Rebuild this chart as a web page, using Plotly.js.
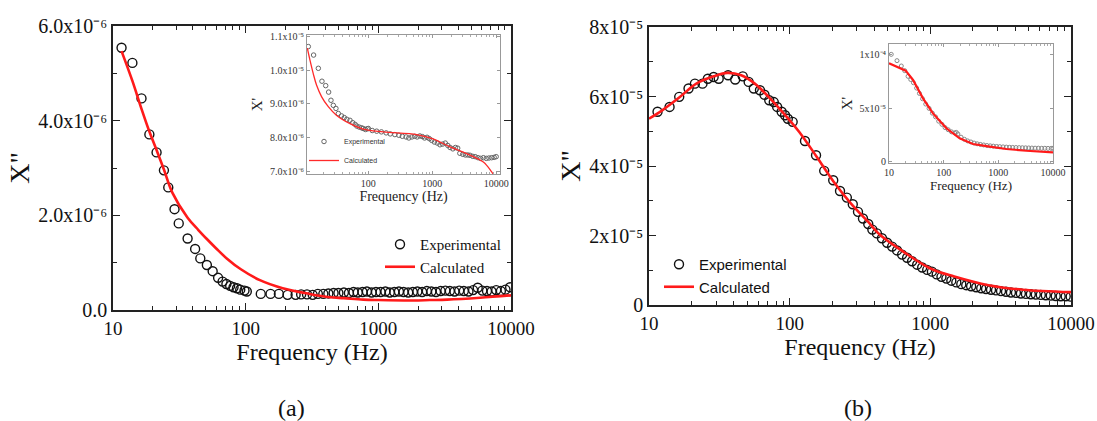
<!DOCTYPE html>
<html>
<head>
<meta charset="utf-8">
<script src="https://cdn.plot.ly/plotly-3.0.1.min.js"></script>
<style>html,body{margin:0;padding:0;background:#fff;}#chart{width:1097px;height:421px;}</style>
</head>
<body>
<div id="chart"></div>
<script>
// ---------- DATA ----------
// Panel (a) main: X'' (units 1e-6) vs frequency (Hz)
const freqA_exp = [11.6,14.0,16.4,18.8,21.3,24.2,26.1,29.1,31.3,36.5,41.6,45.5,51,56.4,62,67,71.6,76.4,81,86,91,98,102,130,154,178,207,238,262,290,320,350,385,420,460,500,550,600,650,700,760,820,890,960,1040,1130,1220,1320,1430,1550,1680,1820,1970,2140,2320,2510,2720,2950,3200,3460,3750,4070,4410,4780,5180,5610,6080,6590,7140,7740,8390,9090,9850];
const chi2A_exp = [5.54,5.22,4.47,3.71,3.33,2.95,2.59,2.13,1.83,1.51,1.29,1.09,0.95,0.82,0.68,0.60,0.55,0.51,0.48,0.46,0.43,0.41,0.39,0.34,0.34,0.34,0.32,0.32,0.33,0.33,0.32,0.34,0.34,0.35,0.36,0.36,0.37,0.36,0.38,0.37,0.38,0.39,0.37,0.38,0.38,0.39,0.37,0.38,0.39,0.38,0.37,0.38,0.39,0.38,0.40,0.39,0.38,0.40,0.41,0.40,0.39,0.41,0.40,0.39,0.42,0.47,0.41,0.40,0.39,0.42,0.40,0.43,0.48];
const freqA_calc = [11.6,14,16.4,18.8,21.3,24.2,28,36.5,44,51,60,72,92,128,190,303,431,550,769,1000,1830,2450,3300,5840,10000];
const chi2A_calc = [5.47,4.84,4.25,3.77,3.38,2.97,2.48,1.95,1.69,1.50,1.30,1.09,0.86,0.63,0.46,0.34,0.27,0.25,0.22,0.21,0.20,0.21,0.22,0.26,0.31];

// Panel (a) inset: X' (units 1e-6) vs frequency (Hz)
const freqAi_exp = [11.5,13.9,16.5,18.8,21.5,23.9,26,28.3,31.1,33.9,38,42,46,51.6,57,62,66,72,78,83,90,96,100,115,135,160,190,220,260,300,340,390,430,480,530,580,640,700,760,830,900,980,1080,1200,1320,1450,1600,1750,1900,2100,2300,2500,2700,3000,3300,3600,3900,4300,4700,5200,5700,6300,7000,7700,8500,9300,10000];
const chi1Ai_exp = [10.69,10.44,10.05,9.67,9.54,9.35,9.11,8.96,8.87,8.72,8.65,8.60,8.55,8.52,8.45,8.40,8.35,8.32,8.30,8.28,8.25,8.27,8.28,8.22,8.20,8.18,8.15,8.12,8.10,8.08,8.05,8.03,8.00,8.03,8.05,8.03,8.06,8.04,8.00,8.02,7.98,7.93,7.88,7.85,7.80,7.82,7.85,7.78,7.72,7.68,7.72,7.70,7.55,7.52,7.50,7.50,7.49,7.46,7.45,7.42,7.40,7.42,7.40,7.41,7.42,7.43,7.45];
const freqAi_calc = [11.1,12.2,13.7,15.5,18.6,23.6,31.6,51.6,83,172,572,1000,1900,3450,6300,8500,10000];
const chi1Ai_calc = [10.64,10.29,9.9,9.55,9.21,8.92,8.67,8.42,8.26,8.18,8.10,7.98,7.74,7.54,7.29,7.0,6.8];

// Panel (b) main: X'' (units 1e-5) vs frequency (Hz)
const freqB_exp = [11.5,14.0,16.4,19.1,21.2,24.0,26.2,28.8,31.3,36.5,41.0,46.4,51.1,55.6,61.5,66.2,71.6,77.1,81.5,87.7,92.7,97,105,128.5,154,176,204,228,255,281,306,332,362,387,417,453,493,535,580,630,684,742,806,875,950,1026,1110,1200,1300,1410,1530,1660,1800,1950,2120,2300,2490,2700,2930,3180,3450,3740,4060,4400,4780,5180,5620,6100,6620,7180,7790,8450,9170,9950];
const chi2B_exp = [5.56,5.70,5.99,6.23,6.37,6.37,6.51,6.56,6.51,6.61,6.49,6.58,6.42,6.23,6.18,6.05,5.89,5.84,5.70,5.56,5.46,5.36,5.27,4.72,4.31,3.86,3.59,3.28,3.09,2.90,2.68,2.49,2.33,2.17,2.06,1.92,1.79,1.68,1.57,1.45,1.36,1.26,1.16,1.08,1.01,0.96,0.88,0.81,0.76,0.70,0.65,0.60,0.57,0.54,0.51,0.48,0.46,0.44,0.42,0.40,0.38,0.36,0.35,0.33,0.32,0.31,0.30,0.29,0.28,0.27,0.26,0.25,0.25,0.24];
const freqB_calc = [10,12.4,16.4,21.7,28.8,36,45.2,56.5,70.8,88.7,117,156,206,273,362,438,635,1000,1480,2594,4550,10000];
const chi2B_calc = [5.36,5.60,5.97,6.37,6.58,6.68,6.61,6.37,5.99,5.56,4.98,4.26,3.54,2.92,2.39,2.02,1.55,1.05,0.82,0.57,0.44,0.37];

// Panel (b) inset: X' (units 1e-4) vs frequency (Hz)
const freqBi_exp = [11,14,16.8,19.4,22.3,25,28,32,36,41,47,54,62,71,81,93,106,121,139,159,170,182,208,240,275,315,360,410,470,540,620,710,810,930,1060,1220,1400,1600,1830,2100,2400,2750,3150,3600,4100,4700,5400,6200,7100,8100,9300,10000];
const chi1Bi_exp = [1.006,0.947,0.897,0.853,0.80,0.77,0.74,0.69,0.64,0.59,0.54,0.50,0.455,0.42,0.38,0.35,0.32,0.30,0.28,0.27,0.275,0.26,0.23,0.21,0.195,0.185,0.175,0.168,0.162,0.157,0.152,0.149,0.146,0.143,0.141,0.139,0.137,0.135,0.134,0.133,0.132,0.131,0.130,0.129,0.128,0.127,0.127,0.126,0.126,0.125,0.125,0.126];
const freqBi_calc = [10,20.2,27.5,41.9,63.8,112,196,344,694,1400,3250,10000];
const chi1Bi_calc = [0.922,0.853,0.766,0.594,0.453,0.313,0.219,0.166,0.141,0.119,0.103,0.0875];

// Tick labels
const freqTicks = [10,100,1000,10000];
const freqTickText = ['10','100','1000','10000'];
const yTicksA = [0,2e-6,4e-6,6e-6];
const yTickTextA = ['0.0','2.0x10⁻⁶','4.0x10⁻⁶','6.0x10⁻⁶'];
const yTicksB = [0,2e-5,4e-5,6e-5,8e-5];
const yTickTextB = ['0','2x10⁻⁵','4x10⁻⁵','6x10⁻⁵','8x10⁻⁵'];
const yTicksAi = [7e-6,8e-6,9e-6,1e-5,1.1e-5];
const yTickTextAi = ['7.0x10⁻⁶','8.0x10⁻⁶','9.0x10⁻⁶','1.0x10⁻⁵','1.1x10⁻⁵'];
const yTicksBi = [0,5e-5,1e-4];
const yTickTextBi = ['0','5x10⁻⁵','1x10⁻⁴'];

// ---------- PLOT ----------
const serif = 'Liberation Serif';
const sans = 'Liberation Sans';
const W = 1097, H = 421;
const px = (a,b) => [a/W, b/W];
const py = (top,bottom) => [1-bottom/H, 1-top/H];
const scale = (arr,k) => arr.map(v => v*k);

const minorLog = [];
[10,100,1000].forEach(d => { for (let k=2;k<=9;k++) minorLog.push(d*k); });

function mainX(domain, anchor) {
  return {domain, anchor, type:'log', range:[1,4], tickmode:'array', tickvals:freqTicks, ticktext:freqTickText,
    ticks:'inside', ticklen:7, tickwidth:1.3, tickcolor:'#222',
    minor:{tickmode:'array', tickvals:minorLog, ticks:'inside', ticklen:4, tickwidth:1, tickcolor:'#222', showgrid:false},
    showline:true, linewidth:1.6, linecolor:'#222', mirror:'ticks', showgrid:false, zeroline:false,
    tickfont:{family:serif, size:19, color:'#111'},
    title:{text:'Frequency (Hz)', font:{family:serif, size:24, color:'#111'}, standoff:6}};
}
function mainY(domain, anchor, range, tv, tt, minorVals) {
  return {domain, anchor, range, tickmode:'array', tickvals:tv, ticktext:tt,
    ticks:'inside', ticklen:7, tickwidth:1.3, tickcolor:'#222',
    minor:{tickmode:'array', tickvals:minorVals, ticks:'inside', ticklen:4, tickwidth:1, tickcolor:'#222', showgrid:false},
    showline:true, linewidth:1.6, linecolor:'#222', mirror:'ticks', showgrid:false, zeroline:false,
    tickfont:{family:serif, size:20, color:'#111'},
    title:{text:'X"', font:{family:serif, size:28, color:'#111'}, standoff:0}};
}
function insetX(domain, anchor, range, fsize, tsize) {
  return {domain, anchor, type:'log', range, tickmode:'array', tickvals:freqTicks, ticktext:freqTickText,
    ticks:'inside', ticklen:3, tickwidth:1, tickcolor:'#999',
    minor:{tickmode:'array', tickvals:minorLog, ticks:'inside', ticklen:2, tickwidth:1, tickcolor:'#aaa', showgrid:false},
    showline:true, linewidth:1, linecolor:'#999', mirror:'ticks', showgrid:false, zeroline:false,
    tickfont:{family:serif, size:fsize, color:'#333'},
    title:{text:'Frequency (Hz)', font:{family:serif, size:tsize, color:'#222'}, standoff:3}};
}
function insetY(domain, anchor, range, tv, tt, fsize) {
  return {domain, anchor, range, tickmode:'array', tickvals:tv, ticktext:tt,
    ticks:'inside', ticklen:3, tickwidth:1, tickcolor:'#999',
    showline:true, linewidth:1, linecolor:'#999', mirror:'ticks', showgrid:false, zeroline:false,
    tickfont:{family:serif, size:fsize, color:'#333'},
    title:{text:"X'", font:{family:serif, size:15, color:'#222'}, standoff:3}};
}

const traces = [
  {x:freqA_exp, y:scale(chi2A_exp,1e-6), xaxis:'x', yaxis:'y', mode:'markers', name:'Experimental', legend:'legend',
   marker:{symbol:'circle-open', size:9, color:'#111', line:{width:1.4}}},
  {x:freqA_calc, y:scale(chi2A_calc,1e-6), xaxis:'x', yaxis:'y', mode:'lines', name:'Calculated', legend:'legend',
   line:{color:'#ff1a1a', width:2.6, shape:'spline'}},
  {x:freqAi_exp, y:scale(chi1Ai_exp,1e-6), xaxis:'x3', yaxis:'y3', mode:'markers', name:'Experimental', legend:'legend3',
   marker:{symbol:'circle-open', size:4.5, color:'#666', line:{width:1}}},
  {x:freqAi_calc, y:scale(chi1Ai_calc,1e-6), xaxis:'x3', yaxis:'y3', mode:'lines', name:'Calculated', legend:'legend3',
   line:{color:'#ff2a2a', width:1.3, shape:'spline'}},
  {x:freqB_exp, y:scale(chi2B_exp,1e-5), xaxis:'x2', yaxis:'y2', mode:'markers', name:'Experimental', legend:'legend2',
   marker:{symbol:'circle-open', size:9, color:'#111', line:{width:1.4}}},
  {x:freqB_calc, y:scale(chi2B_calc,1e-5), xaxis:'x2', yaxis:'y2', mode:'lines', name:'Calculated', legend:'legend2',
   line:{color:'#ff1a1a', width:2.6, shape:'spline'}},
  {x:freqBi_exp, y:scale(chi1Bi_exp,1e-4), xaxis:'x4', yaxis:'y4', mode:'markers', name:'Experimental', showlegend:false,
   marker:{symbol:'circle-open', size:4, color:'#888', line:{width:1}}},
  {x:freqBi_calc, y:scale(chi1Bi_calc,1e-4), xaxis:'x4', yaxis:'y4', mode:'lines', name:'Calculated', showlegend:false,
   line:{color:'#ff1a1a', width:2.2}}
];

const legendBase = {bgcolor:'rgba(0,0,0,0)', borderwidth:0, xanchor:'left', yanchor:'top', tracegroupgap:0};
const layout = {
  width:W, height:H, margin:{l:0,r:0,t:0,b:0}, paper_bgcolor:'#fff', plot_bgcolor:'#fff',
  font:{family:serif, color:'#111'},
  showlegend:true,
  xaxis: mainX(px(113,511), 'y'),
  yaxis: mainY(py(26,310), 'x', [0,6e-6], yTicksA, yTickTextA, [1e-6,3e-6,5e-6]),
  xaxis2: mainX(px(649,1071), 'y2'),
  yaxis2: mainY(py(27,305), 'x2', [0,8e-5], yTicksB, yTickTextB, [1e-5,3e-5,5e-5,7e-5]),
  xaxis3: insetX(px(307,500), 'y3', [1.04,4.06], 10, 14),
  yaxis3: insetY(py(35,174), 'x3', [6.94e-6,1.103e-5], yTicksAi, yTickTextAi, 10),
  xaxis4: insetX(px(889,1053), 'y4', [1,4], 10, 13),
  yaxis4: insetY(py(44,163), 'x4', [-1.2e-6,1.103e-4], yTicksBi, yTickTextBi, 10),
  legend: Object.assign({}, legendBase, {x:380/W, y:1-228/H, font:{family:serif, size:15, color:'#111'}}),
  legend2: Object.assign({}, legendBase, {x:659/W, y:1-248/H, font:{family:sans, size:15, color:'#111'}}),
  legend3: Object.assign({}, legendBase, {x:304/W, y:1-127/H, font:{family:sans, size:7, color:'#333'}}),
  annotations: [
    {text:'(a)', x:291/W, y:1-408/H, xref:'paper', yref:'paper', xanchor:'center', yanchor:'middle', showarrow:false, font:{family:serif, size:24, color:'#111'}},
    {text:'(b)', x:858/W, y:1-408/H, xref:'paper', yref:'paper', xanchor:'center', yanchor:'middle', showarrow:false, font:{family:serif, size:24, color:'#111'}}
  ]
};

Plotly.newPlot('chart', traces, layout, {displayModeBar:false});
</script>
</body>
</html>
